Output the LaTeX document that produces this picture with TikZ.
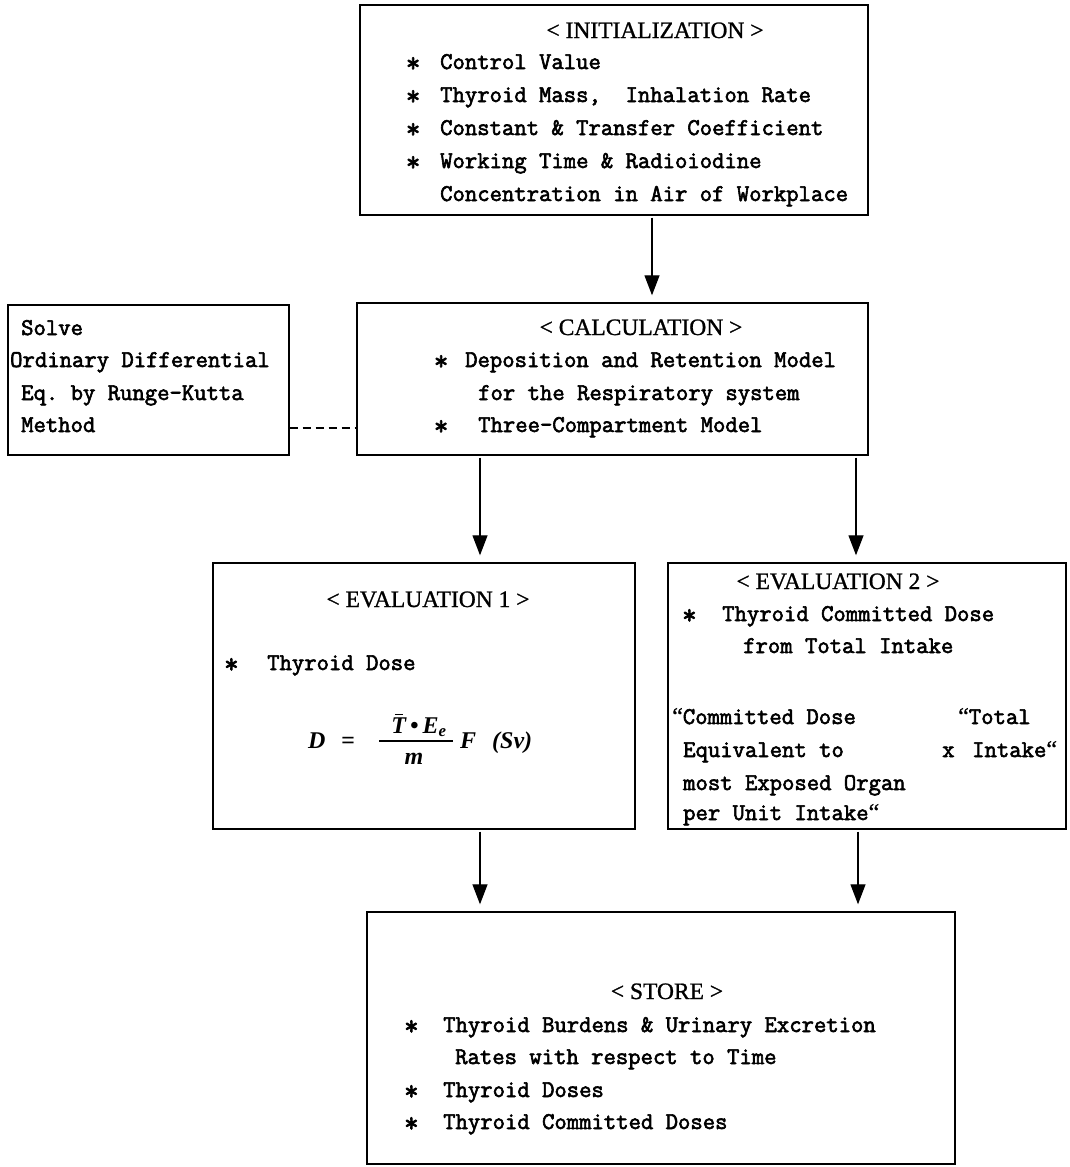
\documentclass[tikz,border=0pt]{standalone}
\usepackage{fontspec}
\newfontfamily\ttf[FakeBold=2.5]{Latin Modern Mono}
\newfontfamily\ttl[FakeBold=1]{Liberation Serif}
\newfontfamily\fml{Liberation Serif}
\usetikzlibrary{arrows.meta}
\newcommand\stsym{\raisebox{-0.12em}{\fontsize{28}{28}\selectfont *}}
\newcommand\q{{\ttl “}}
\newcommand\barT{\setbox0\hbox{T}\rlap{\kern0.14em\raisebox{\dimexpr\ht0+1.8pt\relax}{\rule{0.55\wd0}{1.5pt}}}T}
\tikzset{
  box/.style={draw, line width=1.4pt, rectangle, inner sep=0pt},
  txt/.style={anchor=base west, inner sep=0pt, font=\ttf\fontsize{24}{28}\selectfont},
  ttl/.style={anchor=base, inner sep=0pt, font=\ttl\fontsize{23.5}{28}\selectfont},
  fm/.style={anchor=base west, inner sep=0pt, font=\fml\bfseries\itshape\fontsize{24}{28}\selectfont},
  arr/.style={line width=1.3pt, -{Triangle[length=20pt,width=15pt]}, shorten <=2pt, shorten >=7pt},
  dsh/.style={line width=1.1pt, dash pattern=on 8pt off 5pt}
}
\begin{document}
\begin{tikzpicture}[x=1pt,y=-1pt]
\useasboundingbox (0,0) rectangle (1069,1167);
% boxes
\node[box, minimum width=508pt, minimum height=210pt] (init) at (614,110) {};
\node[box, minimum width=511pt, minimum height=152pt] (calc) at (612.5,379) {};
\node[box, minimum width=281pt, minimum height=150pt] (solve) at (148.5,380) {};
\node[box, minimum width=422pt, minimum height=266pt] (ev1) at (424,696) {};
\node[box, minimum width=398pt, minimum height=266pt] (ev2) at (867,696) {};
\node[box, minimum width=588pt, minimum height=252pt] (store) at (661,1038) {};
% connectors
\draw[arr] ([xshift=38pt]init.south) -- ([xshift=38pt]init.south |- calc.north);
\draw[arr] ([xshift=-132.5pt]calc.south) -- ([xshift=-132.5pt]calc.south |- ev1.north);
\draw[arr] ([xshift=243.5pt]calc.south) -- ([xshift=243.5pt]calc.south |- ev2.north);
\draw[arr] ([xshift=56pt]ev1.south) -- ([xshift=56pt]ev1.south |- store.north);
\draw[arr] ([xshift=-9pt]ev2.south) -- ([xshift=-9pt]ev2.south |- store.north);
\draw[dsh] ([yshift=-48pt]solve.east) -- ([yshift=-48pt]solve.east -| calc.west);
% INITIALIZATION
\node[ttl] (it) at (655,38) {< INITIALIZATION >};
\node[txt] (is1) at (405.7,69) {\stsym};
\node[txt] (i1) at (440,69) {Control Value};
\node[txt] (is2) at (405.7,102) {\stsym};
\node[txt] (i2) at (440,102) {Thyroid Mass,\ \ Inhalation Rate};
\node[txt] (is3) at (405.7,135) {\stsym};
\node[txt] (i3) at (440,135) {Constant \& Transfer Coefficient};
\node[txt] (is4) at (405.7,168) {\stsym};
\node[txt] (i4) at (440,168) {Working Time \& Radioiodine};
\node[txt] (i5) at (440,201) {Concentration in Air of Workplace};
% CALCULATION
\node[ttl] (ct) at (641,335) {< CALCULATION >};
\node[txt] (cs1) at (433.7,367) {\stsym};
\node[txt] (c1) at (465,367) {Deposition and Retention Model};
\node[txt] (c2) at (478,400) {for the Respiratory system};
\node[txt] (cs2) at (433.7,432) {\stsym};
\node[txt] (c3) at (478,432) {Three-Compartment Model};
% SOLVE
\node[txt] (s1) at (21,335) {Solve};
\node[txt] (s2) at (10,367) {Ordinary Differential};
\node[txt] (s3) at (21,400) {Eq.\ by Runge-Kutta};
\node[txt] (s4) at (21,432) {Method};
% EVALUATION 1
\node[ttl] (e1t) at (428,607) {< EVALUATION 1 >};
\node[txt] (e1s) at (224,670) {\stsym};
\node[txt] (e11) at (267,670) {Thyroid Dose};
\node[fm] (fD) at (308,748) {D};
\node[fm] (feq) at (341,748) {=};
\node[fm, anchor=base] (fnum) at (419,733) {\barT\,•\,E\textsubscript{e}};
\node[fm, anchor=base] (fden) at (414,764) {m};
\draw[line width=1.2pt] (379,741) -- (453,741);
\node[fm] (fF) at (460,748) {F};
\node[fm] (fSv) at (492,748) {(Sv)};
% EVALUATION 2
\node[ttl] (e2t) at (838,589) {< EVALUATION 2 >};
\node[txt] (e2s) at (682,621) {\stsym};
\node[txt] (e21) at (722,621) {Thyroid Committed Dose};
\node[txt] (e22) at (743,653) {from Total Intake};
\node[txt] (e23) at (672,724) {\q Committed Dose};
\node[txt] (e24) at (683,757) {Equivalent to};
\node[txt] (e25) at (683,790) {most Exposed Organ};
\node[txt] (e26) at (683,820) {per Unit Intake\q};
\node[txt] (e27) at (958,724) {\q Total};
\node[txt] (e28) at (942,757) {x};
\node[txt] (e29) at (972,757) {Intake\q};
% STORE
\node[ttl] (stt) at (667,999) {< STORE >};
\node[txt] (ss1) at (404,1032) {\stsym};
\node[txt] (st1) at (443,1032) {Thyroid Burdens \& Urinary Excretion};
\node[txt] (st2) at (455,1064) {Rates with respect to Time};
\node[txt] (ss2) at (404,1097) {\stsym};
\node[txt] (st3) at (443,1097) {Thyroid Doses};
\node[txt] (ss3) at (404,1129) {\stsym};
\node[txt] (st4) at (443,1129) {Thyroid Committed Doses};
\end{tikzpicture}
\end{document}
